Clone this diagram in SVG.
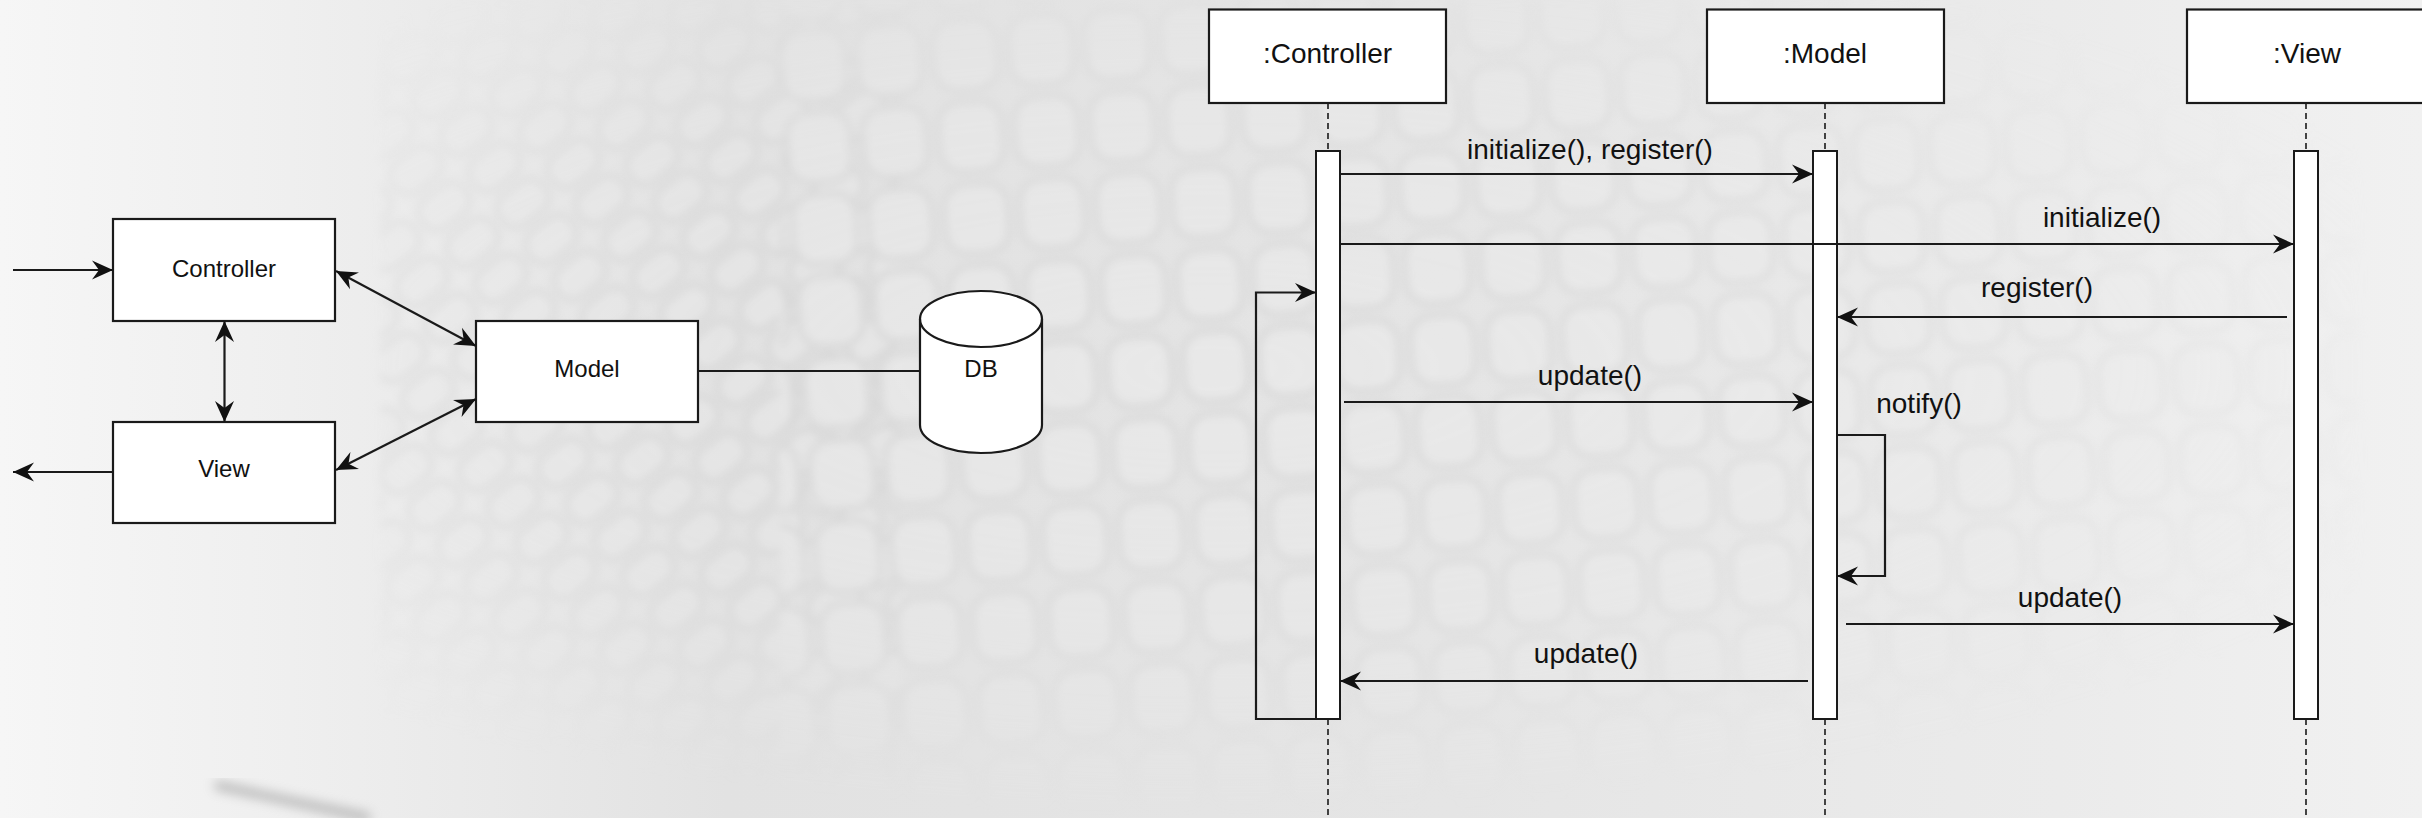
<svg xmlns="http://www.w3.org/2000/svg" width="2422" height="818" viewBox="0 0 2422 818">
  <style>
    .box { fill: #ffffff; stroke: #1a1a1a; stroke-width: 2.2; }
    .act { fill: #ffffff; stroke: #1a1a1a; stroke-width: 2; }
    .line { fill: none; stroke: #1a1a1a; stroke-width: 2.2; }
    .life { fill: none; stroke: #1a1a1a; stroke-width: 1.6; stroke-dasharray: 6 4; }
    .lbl { font-family: "Liberation Sans", Arial, sans-serif; font-size: 24px; fill: #111111; text-anchor: middle; }
    .seq { font-family: "Liberation Sans", Arial, sans-serif; font-size: 28px; fill: #111111; text-anchor: middle; }
  </style>
  <defs>
    <marker id="arrow" viewBox="0 0 22 22" refX="21" refY="11" markerWidth="22" markerHeight="22" markerUnits="userSpaceOnUse" orient="auto-start-reverse">
      <path d="M0,1.5 L21,11 L0,20.5 L7,11 Z" fill="#111111"/>
    </marker>
    <linearGradient id="bgGrad" x1="0" y1="0" x2="1" y2="0">
      <stop offset="0" stop-color="#f6f6f6"/>
      <stop offset="0.12" stop-color="#efefef"/>
      <stop offset="0.3" stop-color="#e2e2e2"/>
      <stop offset="0.6" stop-color="#e5e5e5"/>
      <stop offset="0.85" stop-color="#ebebeb"/>
      <stop offset="1" stop-color="#f1f1f1"/>
    </linearGradient>
    <radialGradient id="fadeGrad" cx="0.5" cy="0.45" r="0.55">
      <stop offset="0" stop-color="#ffffff" stop-opacity="1"/>
      <stop offset="0.6" stop-color="#ffffff" stop-opacity="0.65"/>
      <stop offset="1" stop-color="#ffffff" stop-opacity="0"/>
    </radialGradient>
    <mask id="fade">
      <rect x="0" y="0" width="2422" height="818" fill="url(#fadeGrad)"/>
    </mask>
    <pattern id="scales" x="10" y="0" width="76" height="82" patternUnits="userSpaceOnUse" patternTransform="rotate(-4)">
      <rect x="5" y="5" width="64" height="70" rx="22" fill="#ebebeb" stroke="#cdcdcd" stroke-width="5"/>
    </pattern>
    <pattern id="scalesSkew" x="0" y="0" width="64" height="46" patternUnits="userSpaceOnUse" patternTransform="rotate(-38)">
      <rect x="4" y="4" width="54" height="36" rx="16" fill="#e8e8e8" stroke="#c9c9c9" stroke-width="5"/>
    </pattern>
    <filter id="soft" x="-5%" y="-5%" width="110%" height="110%">
      <feGaussianBlur stdDeviation="4"/>
    </filter>
    <filter id="softer" x="-20%" y="-20%" width="140%" height="140%">
      <feGaussianBlur stdDeviation="6"/>
    </filter>
  </defs>

  <!-- backdrop: soft grey leather texture -->
  <g id="backdrop">
    <rect x="0" y="0" width="2422" height="818" fill="url(#bgGrad)"/>
    <g mask="url(#fade)" filter="url(#soft)" opacity="0.6">
      <rect x="380" y="0" width="520" height="818" fill="url(#scalesSkew)"/>
      <rect x="780" y="0" width="1580" height="818" fill="url(#scales)"/>
    </g>
    <path d="M215,785 L370,818" stroke="#8a8a8a" stroke-width="8" fill="none" filter="url(#softer)" opacity="0.6"/>
  </g>

  <!-- block view: Controller / Model / View / DB -->
  <g id="block-controller">
    <rect class="box" x="113" y="219" width="222" height="102"/>
    <text class="lbl" x="224" y="276.5">Controller</text>
  </g>
  <g id="block-view">
    <rect class="box" x="113" y="422" width="222" height="101"/>
    <text class="lbl" x="224" y="477">View</text>
  </g>
  <g id="block-model">
    <rect class="box" x="476" y="321" width="222" height="101"/>
    <text class="lbl" x="587" y="377">Model</text>
  </g>
  <g id="block-db">
    <path class="box" d="M920,319 A61,28 0 0 1 1042,319 L1042,425 A61,28 0 0 1 920,425 Z"/>
    <path class="line" d="M920,319 A61,28 0 0 0 1042,319"/>
    <text class="lbl" x="981" y="377">DB</text>
  </g>

  <!-- sequence view: lifelines with activation bars -->
  <g id="life-controller">
    <rect class="box" x="1209" y="9.5" width="237" height="93.5"/>
    <text class="seq" x="1327.5" y="63">:Controller</text>
    <line class="life" x1="1328" y1="103" x2="1328" y2="151"/>
    <line class="life" x1="1328" y1="719" x2="1328" y2="818"/>
    <rect class="act" x="1316" y="151" width="24" height="568"/>
  </g>
  <g id="life-model">
    <rect class="box" x="1707" y="9.5" width="237" height="93.5"/>
    <text class="seq" x="1825" y="63">:Model</text>
    <line class="life" x1="1825" y1="103" x2="1825" y2="151"/>
    <line class="life" x1="1825" y1="719" x2="1825" y2="818"/>
    <rect class="act" x="1813" y="151" width="24" height="568"/>
  </g>
  <g id="life-view">
    <rect class="box" x="2187" y="9.5" width="245" height="93.5"/>
    <text class="seq" x="2307" y="63">:View</text>
    <line class="life" x1="2306" y1="103" x2="2306" y2="151"/>
    <line class="life" x1="2306" y1="719" x2="2306" y2="818"/>
    <rect class="act" x="2294" y="151" width="24" height="568"/>
  </g>

  <!-- connectors -->
  <g id="connectors">
    <!-- block view -->
    <path class="line" d="M13,270 L113,270" marker-end="url(#arrow)"/>
    <path class="line" d="M113,472 L13,472" marker-end="url(#arrow)"/>
    <path class="line" d="M224.5,321 L224.5,422" marker-start="url(#arrow)" marker-end="url(#arrow)"/>
    <path class="line" d="M336,271 L476,346" marker-start="url(#arrow)" marker-end="url(#arrow)"/>
    <path class="line" d="M336,470 L476,399" marker-start="url(#arrow)" marker-end="url(#arrow)"/>
    <path class="line" d="M698,371 L920,371"/>

    <!-- sequence messages -->
    <path class="line" d="M1316,719 L1256,719 L1256,292.5 L1316,292.5" marker-end="url(#arrow)"/>
    <path class="line" d="M1341,174 L1813,174" marker-end="url(#arrow)"/>
    <path class="line" d="M1341,244 L2294,244" marker-end="url(#arrow)"/>
    <path class="line" d="M2287,317 L1837,317" marker-end="url(#arrow)"/>
    <path class="line" d="M1344,402 L1813,402" marker-end="url(#arrow)"/>
    <path class="line" d="M1837,435 L1885,435 L1885,576 L1837,576" marker-end="url(#arrow)"/>
    <path class="line" d="M1846,624 L2294,624" marker-end="url(#arrow)"/>
    <path class="line" d="M1808,681 L1340,681" marker-end="url(#arrow)"/>

    <text class="seq" x="1590" y="159">initialize(), register()</text>
    <text class="seq" x="2102" y="227">initialize()</text>
    <text class="seq" x="2037" y="297">register()</text>
    <text class="seq" x="1590" y="385">update()</text>
    <text class="seq" x="1919" y="413">notify()</text>
    <text class="seq" x="2070" y="607">update()</text>
    <text class="seq" x="1586" y="663">update()</text>
  </g>
</svg>
